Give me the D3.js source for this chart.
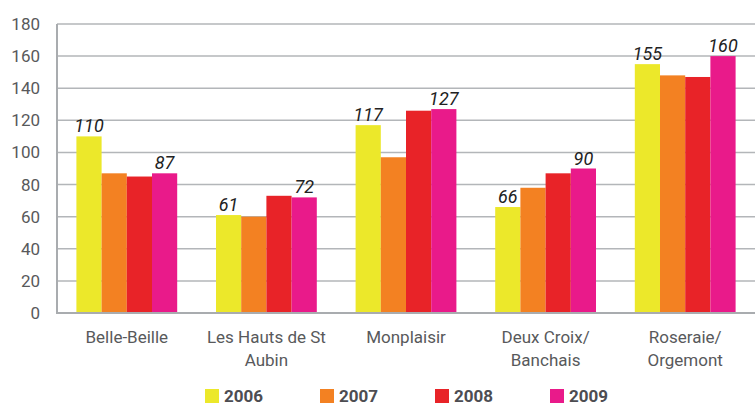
<!DOCTYPE html>
<html><head><meta charset="utf-8">
<script src="https://cdn.jsdelivr.net/npm/d3@7"></script>
<style>
html,body{margin:0;padding:0;background:#fff;}
svg{display:block;font-family:Roboto,"Noto Sans",sans-serif;}
</style></head>
<body><svg id="c" width="755" height="405"></svg>
<script>
const categories = [["Belle-Beille"], ["Les Hauts de St", "Aubin"], ["Monplaisir"], ["Deux Croix/", "Banchais"], ["Roseraie/", "Orgemont"]];
const years = ["2006", "2007", "2008", "2009"];
const v2006 = [110, 61, 117, 66, 155];
const v2007 = [87, 60, 97, 78, 148];
const v2008 = [85, 73, 126, 87, 147];
const v2009 = [87, 72, 127, 90, 160];
const colors = ["#ECE82A", "#F38122", "#E82328", "#E91A8A"];
const yTicks = [0, 20, 40, 60, 80, 100, 120, 140, 160, 180];
const labelled = ["2006", "2009"];

const series = [v2006, v2007, v2008, v2009];
const svg = d3.select("#c");
const mLeft = 57, mRight = 755, mTop = 24, mBottom = 313;

const x0 = d3.scaleBand().domain(d3.range(categories.length)).range([mLeft, mRight]).padding(0);
const x1 = d3.scaleBand().domain(years).range([0, x0.bandwidth()]).paddingInner(0).paddingOuter(0.77);
const y = d3.scaleLinear().domain([0, 180]).range([mBottom, mTop]);

// gridlines
svg.append("g").selectAll("line").data(yTicks.filter(t => t > 0)).join("line")
  .attr("x1", mLeft).attr("x2", mRight)
  .attr("y1", d => y(d)).attr("y2", d => y(d))
  .attr("stroke", "#b3b6b9").attr("stroke-width", 1.5);

// y tick labels
svg.append("g").selectAll("text").data(yTicks).join("text")
  .attr("x", 40).attr("y", d => y(d) + 6)
  .attr("text-anchor", "end").attr("font-size", 17).attr("fill", "#58595b")
  .text(d => d);

// bars
const g = svg.append("g").selectAll("g").data(categories).join("g")
  .attr("transform", (d, i) => `translate(${x0(i)},0)`);
g.selectAll("rect").data((d, i) => years.map((yr, k) => ({yr, k, v: series[k][i]}))).join("rect")
  .attr("x", d => x1(d.yr)).attr("width", x1.bandwidth())
  .attr("y", d => y(d.v)).attr("height", d => mBottom - y(d.v))
  .attr("fill", d => colors[d.k]);
g.selectAll("text.val").data((d, i) => years.map((yr, k) => ({yr, k, v: series[k][i]})).filter(d => labelled.includes(d.yr)))
  .join("text").attr("class", "val")
  .attr("x", d => x1(d.yr) + x1.bandwidth() / 2).attr("y", d => y(d.v) - 4)
  .attr("text-anchor", "middle").attr("font-size", 18).attr("font-style", "italic").attr("fill", "#222")
  .text(d => d.v);

// axes lines
svg.append("line").attr("x1", mLeft).attr("x2", mLeft).attr("y1", mTop).attr("y2", mBottom + 1)
  .attr("stroke", "#a9acaf").attr("stroke-width", 2);
svg.append("line").attr("x1", mLeft).attr("x2", mRight).attr("y1", mBottom).attr("y2", mBottom)
  .attr("stroke", "#a9acaf").attr("stroke-width", 2);

// category labels
svg.append("g").selectAll("text").data(categories).join("text")
  .attr("text-anchor", "middle").attr("font-size", 17).attr("fill", "#58595b")
  .attr("transform", (d, i) => `translate(${x0(i) + x0.bandwidth() / 2},343)`)
  .selectAll("tspan").data(d => d).join("tspan")
  .attr("x", 0).attr("y", (d, j) => j * 23).text(d => d);

// legend
const lg = svg.append("g").selectAll("g").data(years).join("g")
  .attr("transform", (d, i) => `translate(${205 + i * 115},389)`);
lg.append("rect").attr("width", 14).attr("height", 14).attr("fill", (d, i) => colors[i]);
lg.append("text").attr("x", 19).attr("y", 13).attr("font-size", 17).attr("font-weight", "bold")
  .attr("fill", "#4d4d52").text(d => d);
</script></body></html>
